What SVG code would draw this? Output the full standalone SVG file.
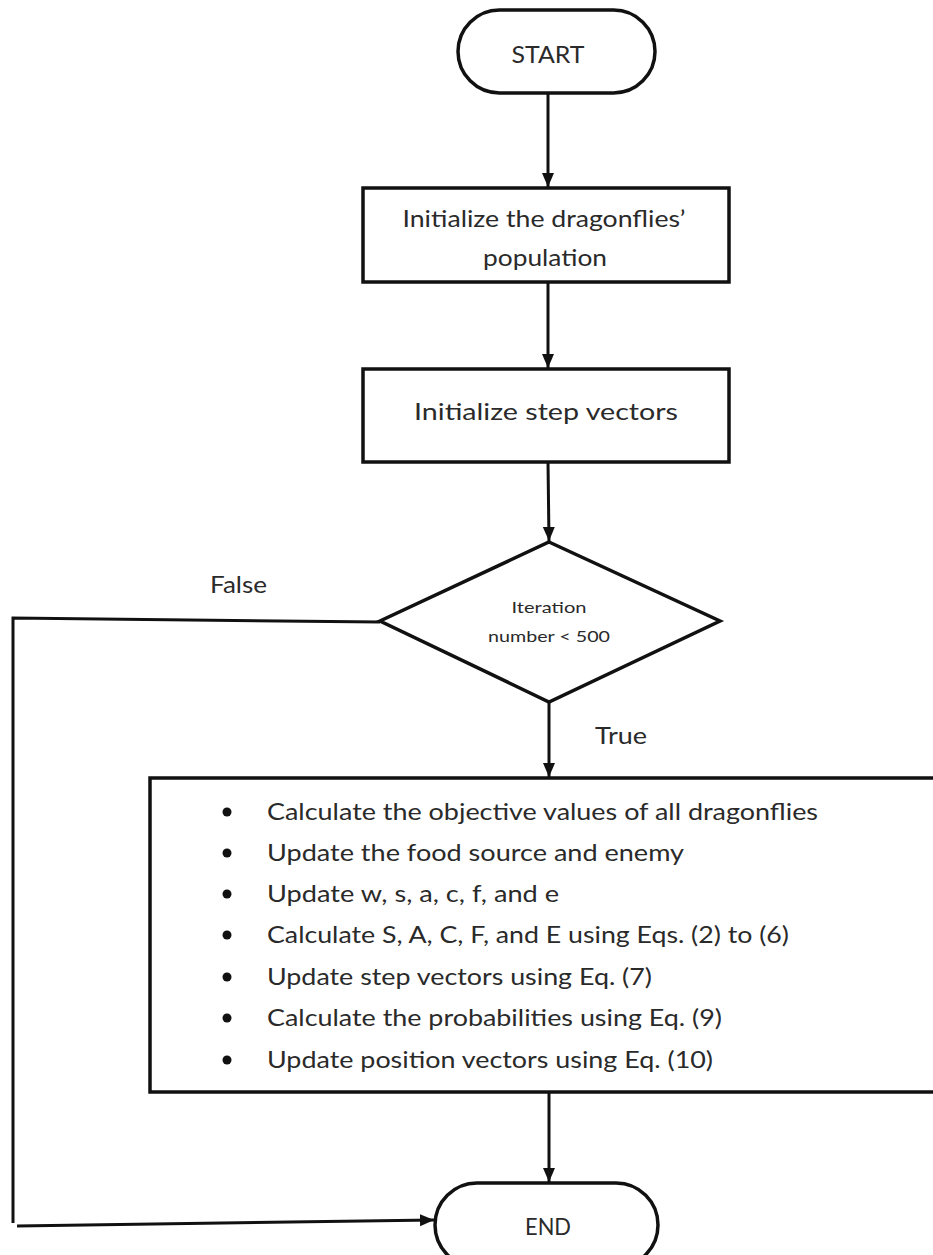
<svg xmlns="http://www.w3.org/2000/svg" width="933" height="1255" viewBox="0 0 933 1255">
<style>
.shape{fill:#fff;stroke:#111;stroke-width:3.5}
.conn{fill:none;stroke:#111;stroke-width:3}
.t{font-family:Lato,"Open Sans","Liberation Sans",sans-serif;fill:#2a2a2a}
.big{font-size:23px}
.sm{font-size:15px}
.mid{text-anchor:middle}
</style>
<defs>
<marker id="arr" markerWidth="14" markerHeight="14" refX="14" refY="7" orient="auto" markerUnits="userSpaceOnUse">
<path d="M0,1 L14,7 L0,13 z" fill="#111"/>
</marker>
</defs>
<rect width="933" height="1255" fill="#fff"/>
<g id="connectors">
<line class="conn" x1="548" y1="93" x2="548" y2="187" marker-end="url(#arr)"/>
<line class="conn" x1="548" y1="282" x2="548" y2="368" marker-end="url(#arr)"/>
<line class="conn" x1="548" y1="462" x2="549" y2="541" marker-end="url(#arr)"/>
<line class="conn" x1="549" y1="702" x2="549" y2="777" marker-end="url(#arr)"/>
<line class="conn" x1="549" y1="1092" x2="549" y2="1182" marker-end="url(#arr)"/>
<polyline class="conn" points="380,622 13,618 13,1223"/>
<line class="conn" x1="17" y1="1226" x2="434" y2="1220" marker-end="url(#arr)"/>
<text class="t big" x="210" y="593" textLength="57" lengthAdjust="spacingAndGlyphs">False</text>
<text class="t big" x="595" y="744" textLength="52" lengthAdjust="spacingAndGlyphs">True</text>
</g>
<g id="start">
<rect class="shape" x="458" y="10" width="197" height="83" rx="41.5"/>
<text class="t big mid" x="548" y="63" textLength="73" lengthAdjust="spacingAndGlyphs">START</text>
</g>
<g id="init-pop">
<rect class="shape" x="363" y="188" width="366" height="94"/>
<text class="t big mid" x="544" y="227" textLength="283" lengthAdjust="spacingAndGlyphs">Initialize the dragonflies’</text>
<text class="t big mid" x="545" y="266" textLength="124" lengthAdjust="spacingAndGlyphs">population</text>
</g>
<g id="init-step">
<rect class="shape" x="363" y="369" width="366" height="93"/>
<text class="t big mid" x="546" y="420" textLength="264" lengthAdjust="spacingAndGlyphs">Initialize step vectors</text>
</g>
<g id="decision">
<polygon class="shape" points="549,542 720,621 549,702 380,621"/>
<text class="t sm mid" x="549" y="613" textLength="75" lengthAdjust="spacingAndGlyphs">Iteration</text>
<text class="t sm mid" x="549" y="642" textLength="122" lengthAdjust="spacingAndGlyphs">number &lt; 500</text>
</g>
<g id="loop-body">
<rect class="shape" x="150" y="778" width="800" height="314"/>
<g fill="#111">
<circle cx="227" cy="812" r="4.5"/>
<circle cx="227" cy="853" r="4.5"/>
<circle cx="227" cy="894" r="4.5"/>
<circle cx="227" cy="935" r="4.5"/>
<circle cx="227" cy="977" r="4.5"/>
<circle cx="227" cy="1018" r="4.5"/>
<circle cx="227" cy="1060" r="4.5"/>
</g>
<text class="t big" x="267" y="820" textLength="551" lengthAdjust="spacingAndGlyphs">Calculate the objective values of all dragonflies</text>
<text class="t big" x="267" y="861" textLength="417" lengthAdjust="spacingAndGlyphs">Update the food source and enemy</text>
<text class="t big" x="267" y="902" textLength="292" lengthAdjust="spacingAndGlyphs">Update w, s, a, c, f, and e</text>
<text class="t big" x="267" y="943" textLength="522" lengthAdjust="spacingAndGlyphs">Calculate S, A, C, F, and E using Eqs. (2) to (6)</text>
<text class="t big" x="267" y="985" textLength="385" lengthAdjust="spacingAndGlyphs">Update step vectors using Eq. (7)</text>
<text class="t big" x="267" y="1026" textLength="455" lengthAdjust="spacingAndGlyphs">Calculate the probabilities using Eq. (9)</text>
<text class="t big" x="267" y="1068" textLength="446" lengthAdjust="spacingAndGlyphs">Update position vectors using Eq. (10)</text>
</g>
<g id="end">
<rect class="shape" x="435" y="1183" width="223" height="84" rx="42"/>
<text class="t big mid" x="548" y="1235" textLength="46" lengthAdjust="spacingAndGlyphs">END</text>
</g>
</svg>
